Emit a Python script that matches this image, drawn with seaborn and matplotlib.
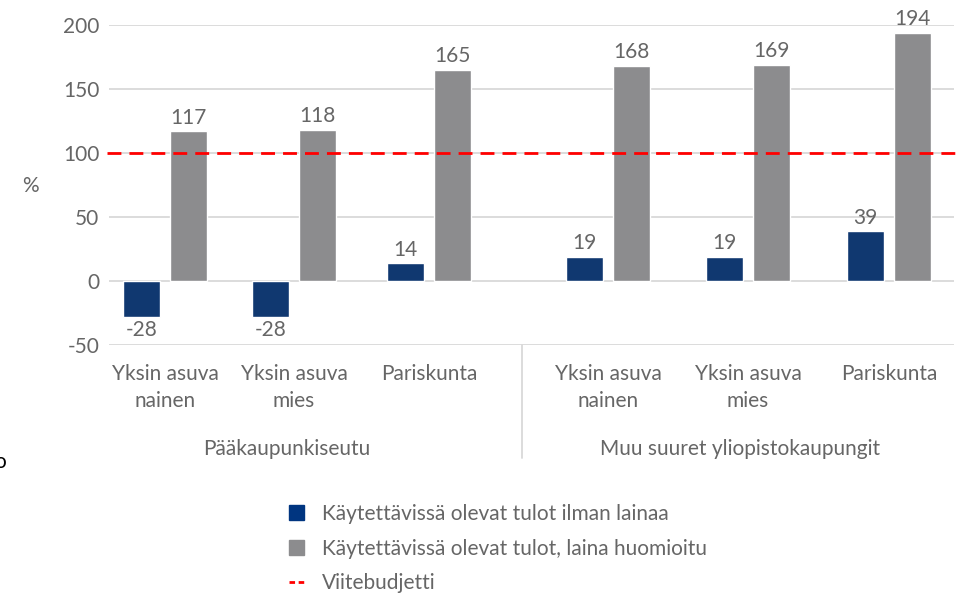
import numpy as np
import pandas as pd
import matplotlib
matplotlib.use("Agg")
import matplotlib.pyplot as plt
import matplotlib.patches as mpatches
import matplotlib.lines as mlines
import seaborn as sns

# --- data -------------------------------------------------------------
categories = ["Yksin asuva\nnainen", "Yksin asuva\nmies", "Pariskunta",
              "Yksin asuva\nnainen", "Yksin asuva\nmies", "Pariskunta"]
groups = ["Pääkaupunkiseutu", "Muu suuret yliopistokaupungit"]
series_names = ["Käytettävissä olevat tulot ilman lainaa",
                "Käytettävissä olevat tulot, laina huomioitu"]
no_loan = [-28, -28, 14, 19, 19, 39]
with_loan = [117, 118, 165, 168, 169, 194]
reference_budget = 100
reference_name = "Viitebudjetti"

# slot centres (layout only, in axis units)
slot_pos = [165, 294, 429, 608, 748, 889]

TEXT = "#666666"
BLUE = "#003580"
GRAY = "#8C8C8E"
FS = 15

df = pd.DataFrame({
    "pos": slot_pos * 2,
    "value": no_loan + with_loan,
    "series": [series_names[0]] * 6 + [series_names[1]] * 6,
})

sns.set_theme(style="white")
plt.rcParams["font.family"] = ["Lato", "DejaVu Sans"]

fig = plt.figure(figsize=(9.62, 5.96), dpi=100)
ax = fig.add_axes([109 / 962, 1 - 345 / 596, (954 - 109) / 962, 320 / 596])

min_gap = np.min(np.diff(slot_pos))
sns.barplot(data=df, x="pos", y="value", hue="series", native_scale=True,
            palette=[BLUE, GRAY], hue_order=series_names, errorbar=None,
            width=94 / min_gap, gap=0.21, legend=False, ax=ax)

ax.set_xlim(109, 954)
ax.set_ylim(-50, 200)
ax.set_yticks([-50, 0, 50, 100, 150, 200])
ax.set_yticklabels(["-50", "0", "50", "100", "150", "200"])
ax.yaxis.grid(True, color="#D9D9D9", lw=1.3)
ax.set_axisbelow(True)
for s in ax.spines.values():
    s.set_visible(False)
ax.tick_params(axis="y", length=0, pad=7, labelsize=FS, labelcolor=TEXT)
ax.set_xticks(slot_pos)
ax.set_xticklabels(categories)
ax.tick_params(axis="x", length=0, pad=13.5, labelsize=FS, labelcolor=TEXT)
for t in ax.get_xticklabels():
    t.set_linespacing(1.45)
ax.set_xlabel("")
ax.set_ylabel("")

for cont in ax.containers:
    ax.bar_label(cont, fmt="%d", padding=2.5, fontsize=FS, color=TEXT)

# reference line (runs past the right edge like the original)
ax.plot([107, 975], [reference_budget, reference_budget], color="#FF0000",
        lw=2, dashes=(5, 2.9), clip_on=False, zorder=3)

# group labels and separator
fig.text(287 / 962, 1 - 449 / 596, groups[0], ha="center", va="center",
         fontsize=FS, color=TEXT)
fig.text(740 / 962, 1 - 449 / 596, groups[1], ha="center", va="center",
         fontsize=FS, color=TEXT)
fig.add_artist(mlines.Line2D([522 / 962, 522 / 962], [1 - 345 / 596, 1 - 458 / 596],
                             color="#D9D9D9", lw=1.3))

fig.text(30 / 962, 1 - 186 / 596, "%", ha="center", va="center",
         fontsize=FS, color=TEXT)
fig.text(0.0, 1 - 462 / 596, "o", ha="center", va="center",
         fontsize=FS, color="black")

handles = [mpatches.Patch(color=BLUE), mpatches.Patch(color=GRAY),
           mlines.Line2D([], [], color="#FF0000", lw=2, dashes=(2, 1.3))]
leg = fig.legend(handles, series_names + [reference_name], loc="upper left",
                 bbox_to_anchor=(289 / 962, 1 - 504 / 596), frameon=False,
                 fontsize=FS, handlelength=0.7, handleheight=0.7,
                 handletextpad=0.9, labelspacing=0.7, borderpad=0,
                 borderaxespad=0)
for t in leg.get_texts():
    t.set_color(TEXT)

fig.savefig("out.png", dpi=100)
